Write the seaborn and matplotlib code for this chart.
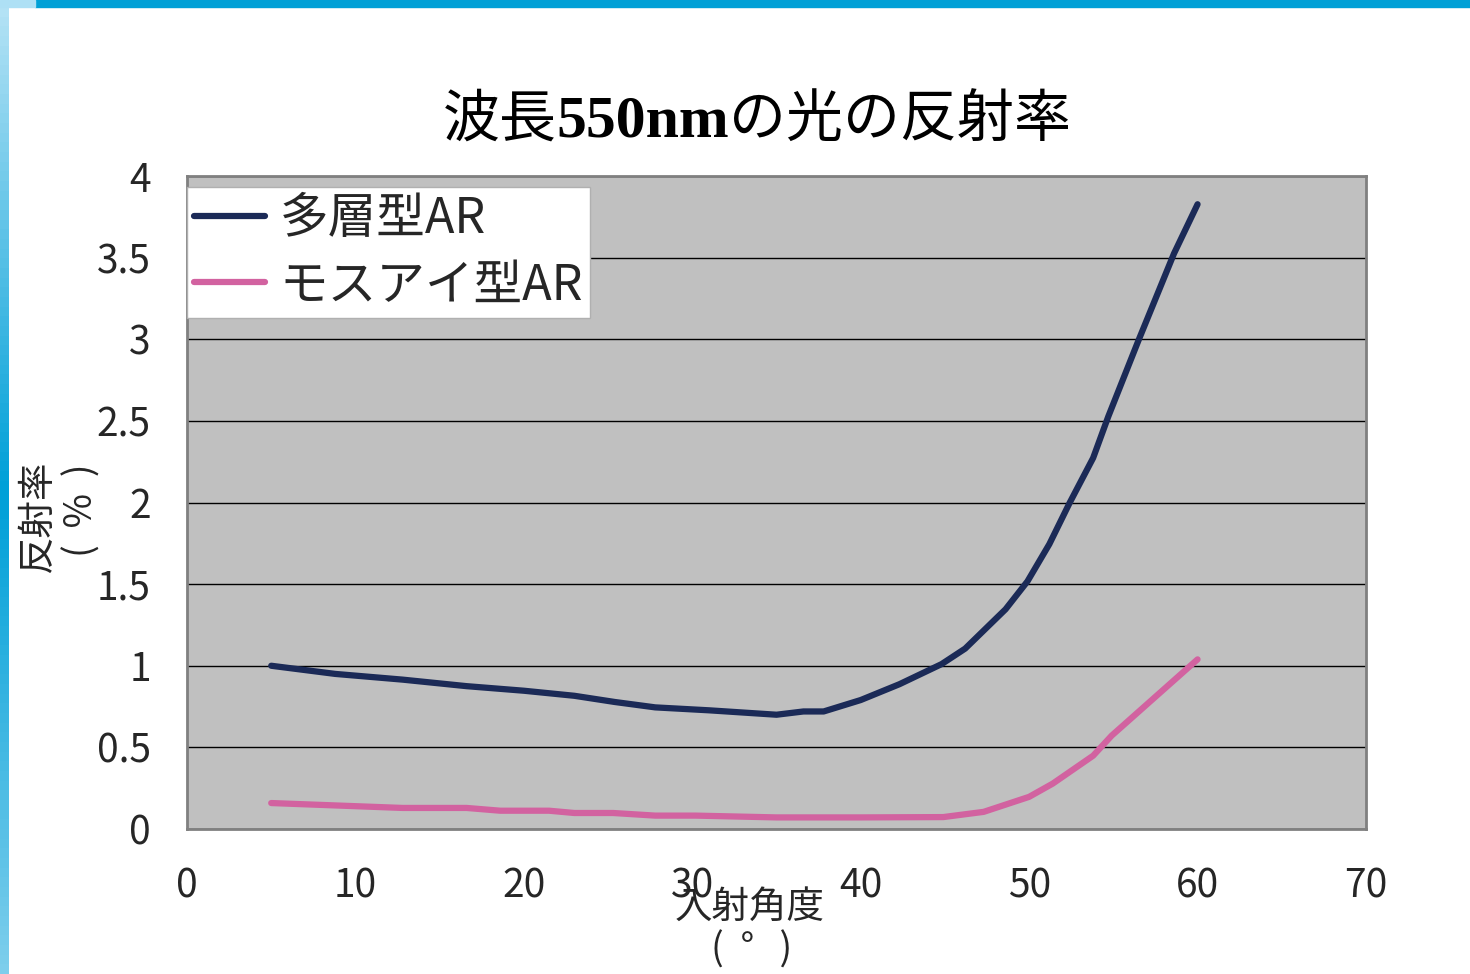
import numpy as np
import pandas as pd
import matplotlib
matplotlib.use('Agg')
import matplotlib.pyplot as plt
import seaborn as sns
from matplotlib.offsetbox import TextArea, HPacker, AnnotationBbox

# 多層型AR
multi_x = [5, 8.8, 12.8, 16.6, 20, 23, 25.4, 27.8, 31, 35, 36.6, 37.8, 40, 42.3,
           44.8, 46.2, 48.6, 49.9, 51.2, 52.4, 53.8, 54.7, 56.5, 58.6, 60]
multi_y = [1.0, 0.95, 0.915, 0.875, 0.847, 0.816, 0.778, 0.745, 0.727, 0.70, 0.72, 0.72, 0.79, 0.887,
           1.01, 1.105, 1.346, 1.517, 1.745, 1.997, 2.273, 2.527, 2.995, 3.525, 3.827]

# モスアイ型AR
moth_x = [5, 12.8, 16.6, 18.6, 21.5, 23, 25.3, 27.8, 30.2, 35, 40, 44.9,
          47.3, 50, 51.4, 53.8, 54.9, 60]
moth_y = [0.159, 0.129, 0.129, 0.112, 0.112, 0.098, 0.098, 0.082, 0.082, 0.071, 0.071, 0.073,
          0.105, 0.197, 0.278, 0.449, 0.572, 1.039]

series_names = ['多層型AR', 'モスアイ型AR']
series_colors = ['#1b2a57', '#d262a0']

x_ticks = [0, 10, 20, 30, 40, 50, 60, 70]
y_ticks = [0, 0.5, 1, 1.5, 2, 2.5, 3, 3.5, 4]
y_tick_labels = ['0', '0.5', '1', '1.5', '2', '2.5', '3', '3.5', '4']

df = pd.concat([
    pd.DataFrame({'angle': multi_x, 'refl': multi_y, 'series': series_names[0]}),
    pd.DataFrame({'angle': moth_x, 'refl': moth_y, 'series': series_names[1]}),
], ignore_index=True)

sns.set_style('white')
plt.rcParams['font.family'] = ['Noto Sans CJK JP', 'DejaVu Sans']

fig = plt.figure(figsize=(14.7, 9.74), dpi=100)
fig.patch.set_facecolor('white')

# 背景の枠（上の青い帯と左のグラデーション）
fig.patches.append(plt.Rectangle((35 / 1470, 1 - 7 / 974), 1, 7 / 974,
                                 transform=fig.transFigure, color='#00a0d6', zorder=0))
fig.patches.append(plt.Rectangle((0, 1 - 7 / 974), 35 / 1470, 7 / 974,
                                 transform=fig.transFigure, color='#aee0f5', zorder=0))
side = fig.add_axes([0, 0, 9 / 1470, 1 - 7 / 974])
grad = np.concatenate([np.linspace(0, 1, 50), np.linspace(1, 0.3, 50)]).reshape(-1, 1)
side.imshow(grad, aspect='auto', cmap=matplotlib.colors.LinearSegmentedColormap.from_list(
    'side', ['#b3e2f5', '#00a0d8']))
side.axis('off')

ax = fig.add_axes([187 / 1470, 1 - 829 / 974, (1366 - 187) / 1470, (829 - 176) / 974])
ax.set_facecolor('#c0c0c0')

sns.lineplot(data=df, x='angle', y='refl', hue='series', palette=series_colors,
             hue_order=series_names, sort=False, estimator=None, linewidth=4.5,
             solid_capstyle='round', ax=ax)

ax.set_xlim(0, 70)
ax.set_ylim(0, 4)
ax.set_xticks(x_ticks)
ax.set_yticks(y_ticks)
ax.set_yticklabels(y_tick_labels)
ax.yaxis.grid(True, color='black', linewidth=1)
ax.xaxis.grid(False)
ax.set_axisbelow(True)
for s in ax.spines.values():
    s.set_color('#808080')
    s.set_linewidth(2)
    s.set_visible(True)
ax.tick_params(axis='x', direction='in', length=9, width=1, color='#909090',
               labelsize=28, pad=27)
ax.tick_params(axis='y', direction='out', length=0, labelsize=28, pad=26)
ax.set_xlabel('')
ax.set_ylabel('')

leg = ax.legend(loc='upper left', bbox_to_anchor=(0.0, 0.983), borderaxespad=0,
                fontsize=35, frameon=True, fancybox=False, handlelength=1.45,
                handletextpad=0.3, labelspacing=0.35, borderpad=0.15)
leg.get_frame().set_facecolor('white')
leg.get_frame().set_alpha(1)
leg.get_frame().set_edgecolor('#b0b0b0')
leg.get_frame().set_linewidth(1)
for line in leg.get_lines():
    line.set_linewidth(4.5)

# 軸ラベル（2行を別々に配置）
fig.text(38 / 1470, 1 - 517 / 974, '反射率', rotation=90, fontsize=27,
         ha='center', va='center')
fig.text(82 / 1470, 1 - 510 / 974, '(  %  )', rotation=90, fontsize=27,
         ha='center', va='center')
fig.text(750 / 1470, 1 - 907 / 974, '入射角度', fontsize=27, ha='center', va='center')
fig.text(752 / 1470, 1 - 950 / 974, '(  °   )', fontsize=27, ha='center', va='center')

# タイトル（550nmだけ太字の明朝体）
t1 = TextArea('波長', textprops=dict(fontsize=41, family=['Noto Sans CJK JP'], color='black'))
t2 = TextArea('550nm', textprops=dict(fontsize=43, family=['Liberation Serif'], weight='bold',
                                      color='black'))
t3 = TextArea('の光の反射率', textprops=dict(fontsize=41, family=['Noto Sans CJK JP'], color='black'))
box = HPacker(children=[t1, t2, t3], align='baseline', pad=0, sep=0)
ab = AnnotationBbox(box, (757 / 1470, 1 - 120 / 974), xycoords='figure fraction',
                    frameon=False, box_alignment=(0.5, 0.5))
fig.add_artist(ab)

fig.savefig('out.png', dpi=100)
